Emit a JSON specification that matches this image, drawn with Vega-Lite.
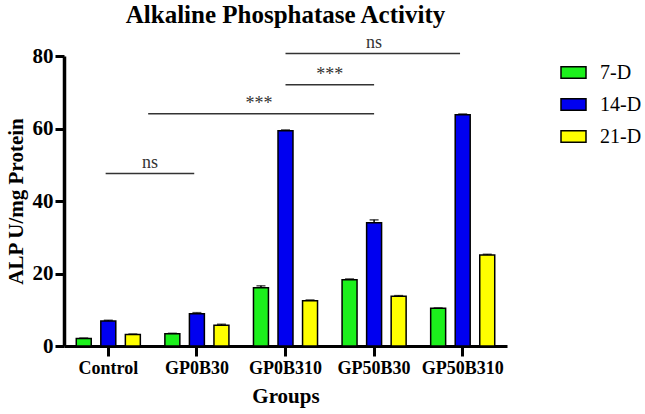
{
  "$schema": "https://vega.github.io/schema/vega-lite/v6.json",
  "width": 443,
  "height": 290,
  "autosize": "none",
  "padding": {"left": 64, "top": 56, "right": 138, "bottom": 68},
  "background": "white",
  "title": {"text": "Alkaline Phosphatase Activity", "font": "Liberation Serif", "fontSize": 25, "fontWeight": "bold", "color": "#000", "anchor": "middle", "offset": 6},
  "config": {
    "view": {"stroke": null},
    "axis": {"grid": false, "domainColor": "#000", "tickColor": "#000", "labelColor": "#000", "titleColor": "#000", "labelFont": "Liberation Serif", "titleFont": "Liberation Serif", "labelFontWeight": "bold", "titleFontWeight": "bold"}
  },
  "datasets": {
    "bars": [
      {"group": "Control", "day": "7-D", "value": 2.1, "upper": 2.2},
      {"group": "Control", "day": "14-D", "value": 6.9, "upper": 7.1},
      {"group": "Control", "day": "21-D", "value": 3.2, "upper": 3.3},
      {"group": "GP0B30", "day": "7-D", "value": 3.4, "upper": 3.5},
      {"group": "GP0B30", "day": "14-D", "value": 8.9, "upper": 9.2},
      {"group": "GP0B30", "day": "21-D", "value": 5.7, "upper": 6.0},
      {"group": "GP0B310", "day": "7-D", "value": 16.1, "upper": 16.6},
      {"group": "GP0B310", "day": "14-D", "value": 59.4, "upper": 59.6},
      {"group": "GP0B310", "day": "21-D", "value": 12.5, "upper": 12.7},
      {"group": "GP50B30", "day": "7-D", "value": 18.3, "upper": 18.5},
      {"group": "GP50B30", "day": "14-D", "value": 34.0, "upper": 34.8},
      {"group": "GP50B30", "day": "21-D", "value": 13.7, "upper": 13.9},
      {"group": "GP50B310", "day": "7-D", "value": 10.4, "upper": 10.5},
      {"group": "GP50B310", "day": "14-D", "value": 63.8, "upper": 64.0},
      {"group": "GP50B310", "day": "21-D", "value": 25.1, "upper": 25.3}
    ],
    "sig": [
      {"x1": 2.5, "x2": 4.47, "y": 80.7, "label": "ns", "lx": 3.5},
      {"x1": 2.5, "x2": 3.5, "y": 72.1, "label": "***", "lx": 3.0},
      {"x1": 0.95, "x2": 3.5, "y": 64.1, "label": "***", "lx": 2.2},
      {"x1": 0.47, "x2": 1.47, "y": 47.6, "label": "ns", "lx": 0.97}
    ]
  },
  "layer": [
    {
      "data": {"name": "bars"},
      "encoding": {
        "x": {"field": "group", "type": "nominal", "sort": ["Control", "GP0B30", "GP0B310", "GP50B30", "GP50B310"],
              "scale": {"paddingInner": 0, "paddingOuter": 0},
              "axis": {"title": "Groups", "labelAngle": 0, "labelFontSize": 18, "titleFontSize": 21, "domainWidth": 3, "tickWidth": 3, "tickSize": 10, "labelPadding": 3, "titlePadding": 8}},
        "xOffset": {"field": "day", "type": "nominal", "sort": ["7-D", "14-D", "21-D"], "scale": {"paddingInner": 0.39, "paddingOuter": 0.5}}
      },
      "layer": [
        {
          "mark": {"type": "bar", "stroke": "#000", "strokeWidth": 1.5},
          "encoding": {
            "y": {"field": "value", "type": "quantitative", "scale": {"domain": [0, 80], "nice": false},
                  "axis": {"title": "ALP U/mg Protein", "values": [0, 20, 40, 60, 80], "labelFontSize": 21, "titleFontSize": 21, "domainWidth": 3.5, "tickWidth": 3, "tickSize": 9, "labelPadding": 2, "titlePadding": 6}},
            "color": {"field": "day", "type": "nominal", "sort": ["7-D", "14-D", "21-D"],
                      "scale": {"domain": ["7-D", "14-D", "21-D"], "range": ["#1cf01c", "#0000f0", "#ffff00"]},
                      "legend": {"title": null, "orient": "none", "legendX": 496, "legendY": 3, "symbolType": "M-1,-0.46H1V0.46H-1Z", "symbolSize": 625, "symbolStrokeColor": "#000", "symbolStrokeWidth": 1.5, "symbolOpacity": 1, "labelFont": "Liberation Serif", "labelFontSize": 20, "labelColor": "#000", "labelOffset": 13, "rowPadding": 8}}
          }
        },
        {
          "mark": {"type": "rule", "color": "#000", "strokeWidth": 1.5},
          "encoding": {
            "y": {"field": "value", "type": "quantitative"},
            "y2": {"field": "upper"}
          }
        },
        {
          "mark": {"type": "tick", "color": "#000", "thickness": 1.5, "size": 9},
          "encoding": {
            "y": {"field": "upper", "type": "quantitative"}
          }
        }
      ]
    },
    {
      "data": {"name": "sig"},
      "encoding": {
        "y": {"field": "y", "type": "quantitative"}
      },
      "layer": [
        {
          "mark": {"type": "rule", "color": "#333", "strokeWidth": 1.5},
          "encoding": {
            "x": {"field": "x1", "type": "quantitative", "scale": {"domain": [0, 5], "nice": false, "zero": false}, "axis": null},
            "x2": {"field": "x2"}
          }
        },
        {
          "mark": {"type": "text", "font": "Liberation Serif", "fontSize": 18, "color": "#333", "baseline": "alphabetic", "dy": -5},
          "encoding": {
            "x": {"field": "lx", "type": "quantitative", "axis": null},
            "text": {"field": "label"}
          }
        }
      ]
    }
  ],
  "resolve": {"scale": {"x": "independent"}}
}
